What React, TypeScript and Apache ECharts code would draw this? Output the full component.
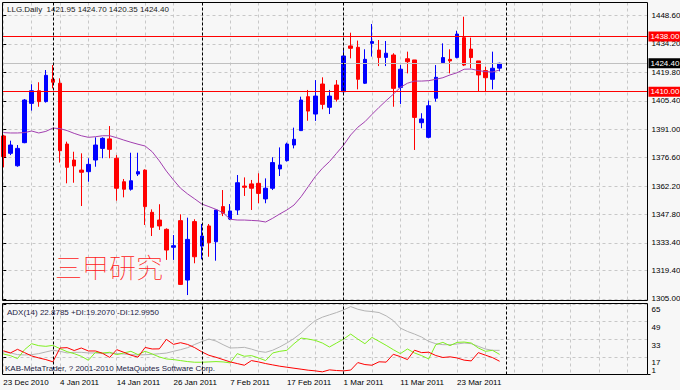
import React, { useEffect, useRef } from 'react';
import * as echarts from 'echarts';

// ---------- data ----------
const symbolName = 'LLG.Daily';
const dateLabels = ['23 Dec 2010', '4 Jan 2011', '14 Jan 2011', '26 Jan 2011', '7 Feb 2011', '17 Feb 2011', '1 Mar 2011', '11 Mar 2011', '23 Mar 2011'];
const dateLabelBars = [0, 8, 16, 24, 32, 40, 48, 56, 64];
const gridBars = [0, 4, 8, 12, 16, 20, 24, 28, 32, 36, 40, 44, 48, 52, 56, 60, 64, 68, 72, 76, 80, 84, 88];
const monthStartBars = [7, 28, 48, 71];

const priceTicks = [1305.0, 1319.4, 1333.4, 1347.8, 1362.2, 1376.6, 1391.0, 1405.4, 1419.8, 1434.2, 1448.6];
const adxTicks = [65, 49, 33, 17];
const adxBottomTicks = [1];
const levelLines = [1438.0, 1410.0];

const opens = [1387.6, 1378.8, 1372.5, 1384.2, 1404.1, 1410.5, 1405.0, 1416.3, 1414.3, 1383.5, 1375.4, 1370.3, 1369.5, 1375.4, 1381.3, 1386.1, 1376.3, 1364.4, 1360.6, 1368.3, 1370.3, 1348.9, 1345.0, 1340.3, 1331.2, 1344.7, 1314.6, 1344.2, 1331.8, 1342.0, 1334.0, 1351.8, 1345.5, 1350.1, 1362.2, 1363.3, 1363.6, 1355.7, 1361.1, 1370.9, 1375.1, 1383.0, 1390.3, 1407.5, 1398.7, 1413.9, 1402.1, 1413.4, 1410.0, 1433.2, 1432.5, 1414.3, 1434.5, 1431.1, 1427.4, 1428.6, 1412.2, 1426.7, 1426.1, 1394.3, 1386.9, 1406.7, 1424.7, 1426.4, 1427.4, 1437.4, 1431.6, 1425.6, 1420.7, 1416.3, 1421.95];
const highs = [1388.1, 1385.2, 1383.0, 1406.3, 1413.8, 1414.8, 1421.0, 1423.5, 1416.8, 1384.7, 1379.6, 1378.8, 1376.3, 1386.9, 1386.9, 1392.6, 1377.9, 1365.8, 1379.1, 1379.1, 1370.7, 1350.4, 1353.0, 1340.8, 1337.4, 1347.9, 1346.2, 1345.4, 1343.0, 1343.0, 1350.1, 1360.2, 1353.1, 1367.8, 1366.6, 1365.3, 1368.7, 1366.1, 1376.8, 1381.8, 1384.2, 1391.8, 1407.5, 1410.9, 1415.9, 1417.3, 1410.9, 1415.9, 1431.1, 1439.9, 1435.9, 1431.5, 1444.3, 1436.2, 1435.7, 1429.5, 1423.5, 1430.3, 1426.1, 1399.1, 1405.5, 1423.5, 1434.5, 1431.5, 1440.9, 1448.0, 1437.4, 1425.6, 1422.7, 1430.3, 1424.70];
const lows = [1371.7, 1377.9, 1372.0, 1383.9, 1400.4, 1402.4, 1404.5, 1411.7, 1374.1, 1363.6, 1363.9, 1352.1, 1364.4, 1372.0, 1376.3, 1376.3, 1354.8, 1356.5, 1359.9, 1367.3, 1342.5, 1336.9, 1340.0, 1324.8, 1324.8, 1312.1, 1307.0, 1323.1, 1325.1, 1326.4, 1324.4, 1347.0, 1345.0, 1347.6, 1357.2, 1350.1, 1353.5, 1353.5, 1360.2, 1367.3, 1374.6, 1381.3, 1390.1, 1395.3, 1395.2, 1401.1, 1398.7, 1405.0, 1409.5, 1426.9, 1411.2, 1413.9, 1427.8, 1423.0, 1423.0, 1402.4, 1403.8, 1419.3, 1380.5, 1391.5, 1386.4, 1405.0, 1424.4, 1419.3, 1426.9, 1423.0, 1421.9, 1410.0, 1410.0, 1411.2, 1420.35];
const closes = [1377.1, 1383.0, 1381.3, 1405.8, 1410.5, 1405.0, 1418.3, 1414.8, 1380.1, 1371.7, 1372.4, 1369.2, 1373.2, 1383.0, 1386.4, 1380.8, 1361.1, 1360.6, 1364.9, 1369.5, 1351.8, 1341.3, 1342.0, 1329.8, 1332.0, 1312.4, 1335.2, 1326.4, 1336.9, 1333.5, 1350.1, 1348.4, 1349.6, 1363.9, 1361.6, 1361.1, 1358.5, 1361.1, 1374.1, 1372.9, 1383.5, 1385.9, 1405.8, 1400.2, 1407.8, 1403.6, 1407.8, 1406.2, 1428.1, 1432.0, 1416.3, 1426.4, 1435.4, 1427.3, 1429.5, 1411.7, 1421.4, 1425.2, 1397.0, 1396.2, 1402.9, 1417.3, 1427.3, 1425.6, 1439.2, 1423.5, 1427.3, 1418.5, 1417.1, 1421.9, 1424.40];
const movingAverage = [1389.3, 1389.1, 1389.1, 1389.3, 1390.1, 1389.1, 1389.9, 1391.6, 1391.3, 1390.3, 1388.9, 1387.7, 1386.9, 1387.2, 1387.7, 1387.7, 1386.7, 1385.5, 1384.4, 1383.4, 1382.5, 1379.6, 1375.0, 1369.8, 1365.3, 1361.1, 1358.2, 1355.7, 1353.1, 1351.8, 1350.4, 1348.7, 1345.4, 1345.0, 1345.0, 1344.8, 1344.6, 1344.0, 1345.9, 1348.1, 1350.1, 1352.6, 1356.8, 1361.9, 1367.0, 1371.2, 1374.6, 1378.8, 1383.0, 1388.1, 1392.0, 1394.8, 1398.5, 1402.1, 1405.5, 1408.7, 1412.2, 1414.3, 1415.4, 1415.4, 1415.6, 1416.3, 1417.1, 1418.5, 1419.6, 1421.4, 1421.5, 1420.7, 1420.2, 1420.0, 1421.0];

const adx = [21.7, 20.5, 19.0, 18.7, 19.0, 19.9, 21.4, 22.9, 22.0, 20.5, 21.1, 21.1, 20.5, 20.5, 19.9, 20.5, 19.9, 19.6, 19.0, 18.7, 18.9, 19.3, 19.8, 20.4, 22.0, 23.5, 25.3, 28.2, 30.8, 33.1, 31.3, 28.0, 25.0, 25.2, 25.6, 24.0, 22.0, 21.1, 23.0, 26.0, 29.5, 33.6, 38.5, 44.5, 49.9, 52.9, 55.0, 57.1, 59.5, 62.5, 60.1, 58.6, 58.0, 57.1, 54.1, 49.9, 43.0, 40.0, 37.6, 34.9, 31.0, 28.9, 28.0, 28.0, 28.6, 29.5, 28.9, 26.5, 24.1, 22.9, 22.8785];
const plusDI = [19.6, 18.1, 15.4, 23.5, 28.9, 27.1, 26.5, 27.4, 24.4, 21.7, 19.9, 17.5, 13.9, 21.1, 20.5, 21.1, 19.0, 20.5, 22.0, 19.0, 22.0, 19.6, 16.9, 15.1, 14.5, 13.6, 12.7, 12.1, 12.1, 12.4, 12.7, 12.4, 11.5, 19.9, 17.5, 18.1, 16.0, 13.6, 20.5, 22.0, 22.9, 28.9, 34.0, 33.1, 31.9, 29.5, 25.9, 29.5, 33.1, 37.6, 33.1, 28.9, 34.6, 31.0, 27.4, 23.5, 19.9, 24.1, 20.5, 18.1, 15.1, 28.0, 30.1, 27.1, 30.1, 30.4, 29.5, 25.0, 22.0, 22.9, 19.207];
const minusDI = [22.5, 20.5, 23.8, 20.8, 17.8, 16.0, 14.5, 12.5, 25.0, 25.3, 22.7, 25.0, 22.3, 22.3, 20.2, 16.5, 23.5, 21.1, 18.5, 16.7, 25.5, 24.1, 24.2, 32.8, 28.3, 29.8, 28.2, 25.3, 21.5, 18.4, 16.6, 14.5, 12.4, 10.9, 9.4, 13.6, 12.4, 10.9, 9.7, 8.5, 7.6, 6.7, 5.8, 4.9, 4.3, 3.4, 5.2, 4.6, 4.3, 5.0, 11.8, 10.0, 9.4, 12.5, 12.2, 19.3, 17.2, 14.5, 23.0, 20.8, 21.2, 18.2, 16.4, 17.0, 16.0, 14.0, 13.3, 20.8, 18.5, 16.3, 12.995];

const watermark = '三甲研究';
const copyright = 'KAB-MetaTrader, ? 2001-2010 MetaQuotes Software Corp.';

// ---------- styles ----------
const FONT = 'Liberation Sans';
const GRID_LEFT = 2.5;
const GRID_WIDTH = 645;
const X_MIN = -0.113;
const X_MAX = 90.86;
const gridLineStyle = { color: '#c8c8c8', type: [3, 3] as number[], width: 1 };
const sepLineStyle = { color: '#000000', type: [3, 2] as number[], width: 1 };

export default function App() {
  const ref = useRef<HTMLDivElement>(null);

  useEffect(() => {
    if (!ref.current) return;
    const chart = echarts.init(ref.current, null, { renderer: 'svg' });

    const candleData = opens.map((o, i) => [i, o, closes[i], lows[i], highs[i]]);
    const pair = (arr: number[]) => arr.map((v, i) => [i, v]);
    const last = opens.length - 1;
    const headerText = `${symbolName}  ${opens[last].toFixed(2)} ${highs[last].toFixed(2)} ${lows[last].toFixed(2)} ${closes[last].toFixed(2)}`;
    const adxText = `ADX(14) ${adx[last].toFixed(4)} +DI:${plusDI[last].toFixed(4)} -DI:${minusDI[last].toFixed(4)}`;

    const priceLabel = (bg: string) => ({
      show: true,
      position: 'end',
      distance: 1,
      formatter: (p: any) => Number(p.value).toFixed(2),
      backgroundColor: bg,
      color: '#ffffff',
      fontFamily: FONT,
      fontSize: 8,
      lineHeight: 9,
      padding: [1, 2, 0, 2],
    });

    const xAxisBase = (gridIndex: number, showLabels: boolean) => ({
      type: 'value',
      gridIndex,
      min: X_MIN,
      max: X_MAX,
      axisLine: { show: false },
      axisTick: { show: false, customValues: gridBars },
      axisLabel: showLabels
        ? {
            show: true,
            customValues: dateLabelBars,
            formatter: (v: number) => {
              const k = dateLabelBars.indexOf(Math.round(v));
              return k >= 0 ? dateLabels[k] : '';
            },
            align: 'left',
            margin: 4,
            fontSize: 8,
            fontFamily: FONT,
            color: '#000000',
          }
        : { show: false },
      splitLine: { show: true, lineStyle: gridLineStyle },
    });

    const option: any = {
      animation: false,
      backgroundColor: '#f7f7f7',
      textStyle: { fontFamily: FONT },
      grid: [
        { left: GRID_LEFT, top: 2.5, width: GRID_WIDTH, height: 298, outerBoundsMode: 'none', containLabel: false },
        { left: GRID_LEFT, top: 303.5, width: GRID_WIDTH, height: 71, outerBoundsMode: 'none', containLabel: false },
      ],
      xAxis: [xAxisBase(0, false), xAxisBase(1, true)],
      yAxis: [
        {
          type: 'value',
          gridIndex: 0,
          position: 'right',
          min: 1304.24,
          max: 1455.2,
          axisLine: { show: false },
          axisTick: { show: true, inside: false, length: 3, customValues: priceTicks, lineStyle: { color: '#000' } },
          axisLabel: {
            customValues: priceTicks,
            formatter: (v: number) => v.toFixed(2),
            margin: 4,
            fontSize: 8,
            fontFamily: FONT,
            color: '#000000',
          },
          splitLine: { show: true, lineStyle: gridLineStyle },
        },
        {
          type: 'value',
          gridIndex: 1,
          position: 'right',
          min: 1,
          max: 65.3,
          axisLine: { show: false },
          axisTick: { show: true, inside: false, length: 3, customValues: adxTicks, lineStyle: { color: '#000' } },
          axisLabel: {
            customValues: adxTicks,
            formatter: (v: number) => String(Math.round(v)),
            margin: 4,
            fontSize: 8,
            fontFamily: FONT,
            color: '#000000',
            verticalAlign: 'top',
            padding: [2, 0, 0, 0],
          },
          splitLine: { show: true, lineStyle: gridLineStyle },
        },
        {
          type: 'value',
          gridIndex: 1,
          position: 'right',
          min: 1,
          max: 65.3,
          axisLine: { show: false },
          axisTick: { show: true, inside: false, length: 3, customValues: adxBottomTicks, lineStyle: { color: '#000' } },
          axisLabel: {
            customValues: adxBottomTicks,
            formatter: (v: number) => String(Math.round(v)),
            margin: 4,
            fontSize: 8,
            fontFamily: FONT,
            color: '#000000',
            verticalAlign: 'bottom',
          },
          splitLine: { show: false },
        },
      ],
      series: [
        {
          type: 'candlestick',
          xAxisIndex: 0,
          yAxisIndex: 0,
          data: candleData,
          barWidth: 4,
          silent: true,
          itemStyle: {
            color: '#0000ff',
            color0: '#ff0000',
            borderColor: '#0000ff',
            borderColor0: '#ff0000',
            borderWidth: 1,
          },
        },
        {
          type: 'line',
          xAxisIndex: 0,
          yAxisIndex: 0,
          data: pair(movingAverage),
          symbol: 'none',
          silent: true,
          lineStyle: { color: '#a23fb0', width: 1 },
        },
        {
          type: 'line',
          xAxisIndex: 0,
          yAxisIndex: 0,
          data: [],
          clip: false,
          silent: true,
          markLine: {
            silent: true,
            symbol: ['none', 'none'],
            animation: false,
            data: [
              { yAxis: closes[last], lineStyle: { color: '#c0c0c0', width: 1, type: 'solid' }, label: priceLabel('#000000') },
              ...levelLines.map((v) => ({ yAxis: v, lineStyle: { color: '#ff0000', width: 1, type: 'solid' }, label: priceLabel('#ff0000') })),
            ],
          },
        },
        {
          type: 'line',
          xAxisIndex: 0,
          yAxisIndex: 0,
          data: [],
          silent: true,
          markLine: {
            silent: true,
            symbol: ['none', 'none'],
            animation: false,
            label: { show: false },
            lineStyle: sepLineStyle,
            data: monthStartBars.map((b) => ({ xAxis: b })),
          },
        },
        {
          type: 'line',
          xAxisIndex: 1,
          yAxisIndex: 1,
          data: [],
          silent: true,
          markLine: {
            silent: true,
            symbol: ['none', 'none'],
            animation: false,
            label: { show: false },
            lineStyle: sepLineStyle,
            data: monthStartBars.map((b) => ({ xAxis: b })),
          },
        },
        {
          type: 'line',
          xAxisIndex: 1,
          yAxisIndex: 1,
          data: pair(adx),
          symbol: 'none',
          silent: true,
          lineStyle: { color: '#b4b4b4', width: 1 },
        },
        {
          type: 'line',
          xAxisIndex: 1,
          yAxisIndex: 1,
          data: pair(plusDI),
          symbol: 'none',
          silent: true,
          lineStyle: { color: '#80f020', width: 1 },
        },
        {
          type: 'line',
          xAxisIndex: 1,
          yAxisIndex: 1,
          data: pair(minusDI),
          symbol: 'none',
          silent: true,
          lineStyle: { color: '#ff0000', width: 1 },
        },
      ],
      graphic: [
        {
          type: 'rect',
          silent: true,
          z: 100,
          shape: { x: 2.5, y: 2.5, width: 645, height: 298 },
          style: { fill: 'none', stroke: '#000000', lineWidth: 1 },
        },
        {
          type: 'rect',
          silent: true,
          z: 100,
          shape: { x: 2.5, y: 303.5, width: 645, height: 71 },
          style: { fill: 'none', stroke: '#000000', lineWidth: 1 },
        },
        {
          type: 'text',
          silent: true,
          z: 101,
          x: 7,
          y: 9,
          style: { text: headerText, font: `8px "${FONT}"`, fill: '#222222', verticalAlign: 'middle', align: 'left' },
        },
        {
          type: 'text',
          silent: true,
          z: 101,
          x: 7,
          y: 312,
          style: { text: adxText, font: `8px "${FONT}"`, fill: '#222244', verticalAlign: 'middle', align: 'left' },
        },
        {
          type: 'text',
          silent: true,
          z: 101,
          x: 5,
          y: 368,
          style: { text: copyright, font: `8px "${FONT}"`, fill: '#222244', verticalAlign: 'middle', align: 'left' },
        },
        {
          type: 'text',
          silent: true,
          z: 101,
          x: 55,
          y: 266,
          style: { text: watermark, font: `lighter 27px "Noto Sans CJK SC"`, fill: '#ff2020', verticalAlign: 'middle', align: 'left' },
        },
      ],
    };

    chart.setOption(option);
    return () => chart.dispose();
  }, []);

  return <div ref={ref} style={{ position: 'fixed', left: 0, top: 0, width: 680, height: 390 }} />;
}
